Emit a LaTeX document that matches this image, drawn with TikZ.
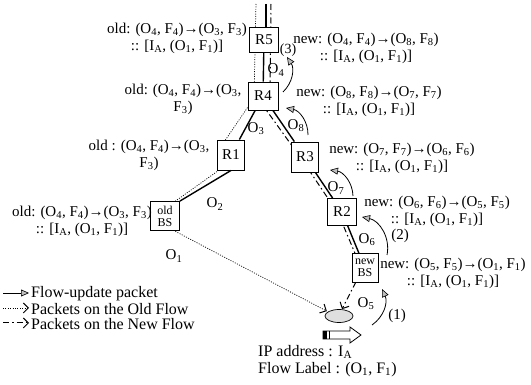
\documentclass[tikz,border=0pt]{standalone}
\usepackage{fontspec}
\setmainfont{Liberation Serif}
\usetikzlibrary{arrows.meta,shapes.geometric}
\newcommand{\sbx}[1]{\textsubscript{#1}}
\begin{document}
\begin{tikzpicture}[x=1pt,y=-1pt,
  rbox/.style={draw,fill=white,line width=0.9pt,minimum width=28pt,minimum height=28pt,inner sep=0pt,font=\fontsize{15}{15}\selectfont},
  smallbox/.style={rbox,align=center,font=\fontsize{12}{12}\selectfont},
  lab/.style={align=center,font=\fontsize{15}{17}\selectfont,inner sep=0pt},
  leg/.style={anchor=west,font=\fontsize{16}{17}\selectfont,inner sep=0pt},
  link/.style={line width=1.4pt},
  oldflow/.style={line width=0.7pt,dash pattern=on 1pt off 1.4pt},
  newflow/.style={line width=1pt,dash pattern=on 6pt off 3pt on 1.5pt off 3pt},
  barb/.style={-{Straight Barb[length=5pt,width=10pt,line width=1pt]}},
  upd/.style={line width=0.8pt,-{Triangle[length=8pt,width=7pt,fill=gray!50,line width=0.6pt]}},
  olab/.style={font=\fontsize{15}{15}\selectfont,inner sep=0pt}
]
\useasboundingbox (0,0) rectangle (531,385);
% named path points
\coordinate (topS) at (266,4);
\coordinate (topD) at (271,4);
\coordinate (topO) at (256,4);
\coordinate (d1) at (270,96);
\coordinate (d2) at (259,100);
\coordinate (d3) at (301.5,159);
\coordinate (d4) at (338.5,214);
\coordinate (d5) at (362,270);
\coordinate (o1) at (254,98);
\coordinate (o2) at (222,145);
\coordinate (o3) at (222,168);
\coordinate (o4) at (170,205);
\coordinate (o5) at (169,228);
% flows (drawn under the boxes)
\node[ellipse,draw,fill=gray!25,minimum width=28pt,minimum height=13pt,inner sep=0pt,line width=0.7pt] (mn) at (339,316) {};
\draw[oldflow] (topO) -- (o1) -- (o2) -- (o3) -- (o4) -- (o5);
\draw[oldflow,barb] (o5) -- ([xshift=-2pt]mn.north west);
\draw[newflow] (topD) -- (d1) -- (d2) -- (d3) -- (d4) -- (d5);
\draw[newflow,barb] (d5) -- ([xshift=3pt]mn.north);
% boxes
\node[rbox,minimum width=29pt,minimum height=25pt] (R5) at (264,40) {R5};
\node[rbox,minimum width=30pt,minimum height=28pt] (R4) at (263,96) {R4};
\node[rbox,minimum width=27pt,minimum height=30pt] (R1) at (231,155) {R1};
\node[rbox,minimum width=27pt,minimum height=30pt] (R3) at (305,157) {R3};
\node[rbox,minimum width=29pt,minimum height=27pt] (R2) at (342,212) {R2};
\node[smallbox,minimum width=29pt,minimum height=29pt] (oBS) at (165,216) {old\\BS};
\node[smallbox,minimum width=26pt,minimum height=29pt] (nBS) at (365,268) {new\\BS};
% links
\draw[link] (topS) -- (topS |- R5.north);
\draw[link] (R5) -- (R4);
\draw[link] (R4) -- (R1);
\draw[link] (R1.south) -- (oBS.north east);
\draw[link] (R4) -- (R3);
\draw[link] (R3) -- (R2);
\draw[link] (R2) -- (nBS);
% link labels
\node[olab] (lO4) at (276,70) {O\sbx{4}};
\node[olab] (lO3) at (256,129) {O\sbx{3}};
\node[olab] (lO8) at (296,126) {O\sbx{8}};
\node[olab] (lO2) at (215,204) {O\sbx{2}};
\node[olab] (lO1) at (174,256) {O\sbx{1}};
\node[olab] (lO7) at (336,188) {O\sbx{7}};
\node[olab] (lO6) at (367,240) {O\sbx{6}};
\node[olab] (lO5) at (366,304) {O\sbx{5}};
% flow-update arrows
\coordinate (c1s) at (372,325); \coordinate (c1e) at (382,289);
\coordinate (c2s) at (387,255); \coordinate (c2e) at (362,217);
\coordinate (c3s) at (353,196); \coordinate (c3e) at (330,170);
\coordinate (c4s) at (308,135); \coordinate (c4e) at (286,108);
\coordinate (c5s) at (283,92);  \coordinate (c5e) at (287,57);
\draw[upd] (c1s) to[bend right=40] (c1e);
\draw[upd] (c2s) to[bend right=45] (c2e);
\draw[upd] (c3s) to[bend right=40] (c3e);
\draw[upd] (c4s) to[bend right=40] (c4e);
\draw[upd] (c5s) to[bend right=40] (c5e);
\node[olab] (s1) at (397,316) {(1)};
\node[olab] (s2) at (400,236) {(2)};
\node[olab,font=\fontsize{14}{14}\selectfont] (s3) at (288,50) {(3)};
% table labels
\node[lab] (t1) at (177,38) {old: (O\sbx{4}, F\sbx{4})→(O\sbx{3}, F\sbx{3})\\:: [I\sbx{A}, (O\sbx{1}, F\sbx{1})]};
\node[lab] (t2) at (183,99) {old: (O\sbx{4}, F\sbx{4})→(O\sbx{3},\\F\sbx{3})};
\node[lab] (t3) at (149,155) {old : (O\sbx{4}, F\sbx{4})→(O\sbx{3},\\F\sbx{3})};
\node[lab] (t4) at (82,221) {old: (O\sbx{4}, F\sbx{4})→(O\sbx{3}, F\sbx{3})\\:: [I\sbx{A}, (O\sbx{1}, F\sbx{1})]};
\node[lab] (n1) at (366,48) {new: (O\sbx{4}, F\sbx{4})→(O\sbx{8}, F\sbx{8})\\:: [I\sbx{A}, (O\sbx{1}, F\sbx{1})]};
\node[lab] (n2) at (369,101) {new: (O\sbx{8}, F\sbx{8})→(O\sbx{7}, F\sbx{7})\\:: [I\sbx{A}, (O\sbx{1}, F\sbx{1})]};
\node[lab] (n3) at (402,158) {new: (O\sbx{7}, F\sbx{7})→(O\sbx{6}, F\sbx{6})\\:: [I\sbx{A}, (O\sbx{1}, F\sbx{1})]};
\node[lab] (n4) at (437,211) {new: (O\sbx{6}, F\sbx{6})→(O\sbx{5}, F\sbx{5})\\:: [I\sbx{A}, (O\sbx{1}, F\sbx{1})]};
\node[lab] (n5) at (453,273) {new: (O\sbx{5}, F\sbx{5})→(O\sbx{1}, F\sbx{1})\\:: [I\sbx{A}, (O\sbx{1}, F\sbx{1})]};
% mobile direction arrow
\draw[line width=0.8pt,fill=white] (323,331) -- (350,331) -- (350,327) -- (361,335) -- (350,343) -- (350,339) -- (323,339) -- cycle;
\fill (323,331) rectangle (327,339);
\draw[line width=0.6pt] (329,331) -- (329,339);
\node[leg,anchor=north west,align=left] (ip) at (258,345) {IP address : I\sbx{A}\\Flow Label : (O\sbx{1}, F\sbx{1})};
% legend
\coordinate (l1a) at (3,293); \coordinate (l1b) at (29,293);
\coordinate (l2a) at (3,308); \coordinate (l2b) at (29,308);
\coordinate (l3a) at (3,323); \coordinate (l3b) at (29,323);
\draw[upd,line width=0.6pt] (l1a) -- (l1b);
\draw[oldflow,barb] (l2a) -- (l2b);
\draw[newflow,barb] (l3a) -- (l3b);
\node[leg] (g1) at (31,294) {Flow-update packet};
\node[leg] (g2) at (31,309) {Packets on the Old Flow};
\node[leg] (g3) at (31,324) {Packets on the New Flow};
\end{tikzpicture}
\end{document}
